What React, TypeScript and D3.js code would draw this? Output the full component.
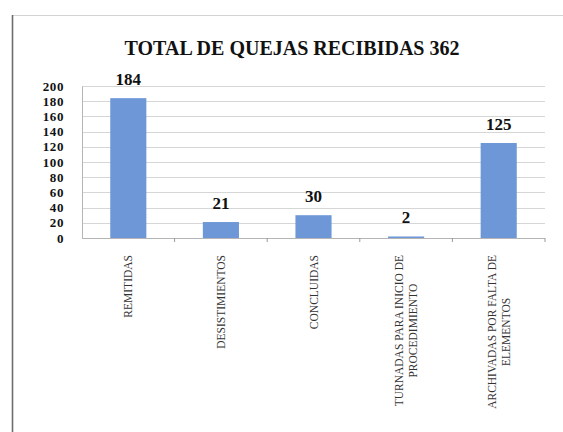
import React, { useRef, useEffect } from "react";
import * as d3 from "d3";

const title = "TOTAL DE QUEJAS RECIBIDAS 362";
const categories = [
  ["REMITIDAS"],
  ["DESISTIMIENTOS"],
  ["CONCLUIDAS"],
  ["TURNADAS PARA INICIO DE", "PROCEDIMIENTO"],
  ["ARCHIVADAS POR FALTA DE", "ELEMENTOS"],
];
const values = [184, 21, 30, 2, 125];
const yTicks = [0, 20, 40, 60, 80, 100, 120, 140, 160, 180, 200];

const W = 563;
const H = 432;
const plot = { left: 82, right: 545, top: 86, bottom: 238 };

const App = () => {
  const svgRef = useRef<SVGSVGElement>(null);

  useEffect(() => {
    const svg = d3.select(svgRef.current);
    svg.selectAll("*").remove();

    const x = d3
      .scaleBand<number>()
      .domain(values.map((_, i) => i))
      .range([plot.left, plot.right])
      .paddingInner(0.61)
      .paddingOuter(0.305);
    const step = x.step();
    const y = d3.scaleLinear().domain([0, 200]).range([plot.bottom, plot.top]);

    // frame
    svg.append("line").attr("x1", 12).attr("x2", W).attr("y1", 15.5).attr("y2", 15.5)
      .attr("stroke", "#d4d4d4").attr("stroke-width", 1);
    svg.append("line").attr("x1", 12.5).attr("x2", 12.5).attr("y1", 15).attr("y2", H)
      .attr("stroke", "#6d6d6d").attr("stroke-width", 1.6);

    svg.append("text")
      .attr("x", 292).attr("y", 55)
      .attr("text-anchor", "middle")
      .attr("font-family", "'Liberation Serif', serif")
      .attr("font-weight", "bold")
      .attr("font-size", 20)
      .attr("fill", "#111")
      .text(title);

    // gridlines
    svg.append("g")
      .selectAll("line")
      .data(yTicks.filter((t) => t > 0))
      .join("line")
      .attr("x1", plot.left).attr("x2", plot.right)
      .attr("y1", (d) => Math.round(y(d)) + 0.5).attr("y2", (d) => Math.round(y(d)) + 0.5)
      .attr("stroke", "#d6d6d6");

    // y axis
    const yAxis = svg.append("g")
      .attr("transform", `translate(${plot.left},0)`)
      .call(d3.axisLeft(y).tickValues(yTicks).tickSize(0).tickPadding(18));
    yAxis.select(".domain").attr("stroke", "#b5b5b5");
    yAxis.selectAll("text")
      .attr("font-family", "'Liberation Serif', serif")
      .attr("font-weight", "bold")
      .attr("font-size", 13)
      .attr("letter-spacing", 0.6)
      .attr("fill", "#111");

    // x axis line + ticks at band boundaries
    svg.append("line")
      .attr("x1", plot.left).attr("x2", plot.right)
      .attr("y1", plot.bottom + 0.5).attr("y2", plot.bottom + 0.5)
      .attr("stroke", "#b5b5b5");
    svg.append("g")
      .selectAll("line")
      .data(d3.range(1, values.length + 1))
      .join("line")
      .attr("x1", (i) => plot.left + i * step).attr("x2", (i) => plot.left + i * step)
      .attr("y1", plot.bottom).attr("y2", plot.bottom + 4)
      .attr("stroke", "#9a9a9a");

    // bars
    svg.append("g")
      .selectAll("rect")
      .data(values)
      .join("rect")
      .attr("x", (_, i) => x(i)!)
      .attr("width", x.bandwidth())
      .attr("y", (d) => y(d))
      .attr("height", (d) => Math.max(1, plot.bottom - y(d)))
      .attr("fill", "#6d97d6");

    // value labels
    svg.append("g")
      .selectAll("text")
      .data(values)
      .join("text")
      .attr("x", (_, i) => x(i)! + x.bandwidth() / 2)
      .attr("y", (d) => y(d) - 13)
      .attr("text-anchor", "middle")
      .attr("font-family", "'Liberation Serif', serif")
      .attr("font-weight", "bold")
      .attr("font-size", 17)
      .attr("fill", "#111")
      .text((d) => d);

    // category labels (rotated)
    const fs = 11.5;
    const lh = 14;
    categories.forEach((lines, i) => {
      const cx = x(i)! + x.bandwidth() / 2;
      const g = svg.append("g");
      const t = g.append("text")
        .attr("font-family", "'Liberation Serif', serif")
        .attr("font-size", fs)
        .attr("fill", "#333")
        .attr("text-anchor", "middle");
      lines.forEach((ln, k) => {
        t.append("tspan")
          .attr("x", 0)
          .attr("y", (k - (lines.length - 1) / 2) * lh + fs * 0.35)
          .text(ln);
      });
      let maxLen = 0;
      t.selectAll<SVGTSpanElement, unknown>("tspan").each(function () {
        maxLen = Math.max(maxLen, this.getComputedTextLength());
      });
      g.attr("transform", `translate(${cx},${255 + maxLen / 2}) rotate(-90)`);
    });
  }, []);

  return (
    <svg
      ref={svgRef}
      width={W}
      height={H}
      style={{ position: "absolute", left: 0, top: 0, background: "#fff" }}
    />
  );
};

export default App;
